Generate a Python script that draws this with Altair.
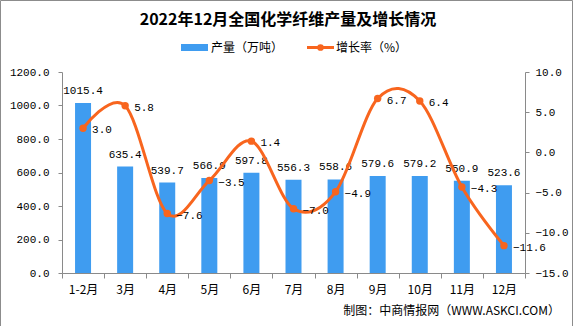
import altair as alt
import pandas as pd

months = ["1-2月", "3月", "4月", "5月", "6月", "7月", "8月", "9月", "10月", "11月", "12月"]
output = [1015.4, 635.4, 539.7, 566.9, 597.8, 556.3, 558.6, 579.6, 579.2, 550.9, 523.6]
growth = [3.0, 5.8, -7.6, -3.5, 1.4, -7.0, -4.9, 6.7, 6.4, -4.3, -11.6]
left_ticks = [0, 200, 400, 600, 800, 1000, 1200]
right_ticks = [-15, -10, -5, 0, 5, 10]

title_text = "2022年12月全国化学纤维产量及增长情况"
legend_bar = "产量（万吨）"
legend_line = "增长率（%）"
source_text = "制图：中商情报网（WWW.ASKCI.COM）"

df = pd.DataFrame({"month": months, "output": output, "growth": growth})

FONT = "Liberation Mono, Noto Sans CJK SC"
CJK = "Noto Sans CJK SC"
BLUE = "#3F9CF0"
ORANGE = "#F8651E"
GRAY = "#8A8A8A"

x = alt.X("month:N", sort=months, title=None,
          scale=alt.Scale(paddingInner=0, paddingOuter=0),
          axis=alt.Axis(labelAngle=0, tickBand="extent", domainColor=GRAY, tickColor=GRAY,
                        tickSize=5, labelPadding=6, labelFontSize=12, labelFont=CJK,
                        labelColor="black", grid=False))

ya = alt.Y("output:Q", title=None,
           scale=alt.Scale(domain=[0, 1200], nice=False, zero=True),
           axis=alt.Axis(values=left_ticks, format=".1f", labelOverlap=False, tickCount=7,
                         domainColor=GRAY, tickColor=GRAY, tickSize=4, labelPadding=9,
                         labelFontSize=11, labelFont=FONT, labelColor="black", grid=False))

yr = alt.Y("growth:Q", title=None,
           scale=alt.Scale(domain=[-15, 10], nice=False),
           axis=alt.Axis(orient="right", values=right_ticks, format=".1f", labelOverlap=False,
                         domainColor=GRAY, tickColor=GRAY, tickSize=4, labelPadding=6,
                         labelFontSize=11, labelFont=FONT, labelColor="black", grid=False))

base = alt.Chart(df)

bars = base.mark_bar(size=16, color=BLUE).encode(x=x, y=ya)
bar_text = base.mark_text(baseline="bottom", dy=-7, fontSize=11, font=FONT, color="black").encode(
    x=x, y=ya, text=alt.Text("output:Q", format=".1f"))

line = base.mark_line(interpolate="cardinal", color=ORANGE, strokeWidth=3).encode(x=x, y=yr)
pts = base.mark_point(filled=True, size=55, color=ORANGE, opacity=1).encode(x=x, y=yr)
line_text = base.mark_text(align="left", baseline="middle", dx=9, dy=2, fontSize=11,
                           font=FONT, color="black").encode(
    x=x, y=yr, text=alt.Text("growth:Q", format=".1f"))

left = alt.layer(bars, bar_text)
right = alt.layer(line, pts, line_text)

one = pd.DataFrame({"a": [0]})
border = alt.Chart(one).mark_rect(fill=None, stroke="#8C8C8C", strokeWidth=1).encode(
    x=alt.value(-61.5), x2=alt.value(510.5), y=alt.value(-71.5), y2=alt.value(260))
title = alt.Chart(one).mark_text(fontSize=16, font=CJK, fontWeight="bold", color="black",
                                 align="center", baseline="middle").encode(
    x=alt.value(226), y=alt.value(-52), text=alt.value(title_text))
leg_rect = alt.Chart(one).mark_rect(color=BLUE).encode(
    x=alt.value(119), x2=alt.value(146), y=alt.value(-28), y2=alt.value(-21))
leg_t1 = alt.Chart(one).mark_text(fontSize=12, font=CJK, color="black", align="left",
                                  baseline="middle").encode(
    x=alt.value(149), y=alt.value(-24.5), text=alt.value(legend_bar))
leg_line = alt.Chart(one).mark_rule(color=ORANGE, strokeWidth=3).encode(
    x=alt.value(245), x2=alt.value(272), y=alt.value(-24.5))
leg_dot = alt.Chart(one).mark_point(filled=True, size=45, color=ORANGE, opacity=1).encode(
    x=alt.value(258.5), y=alt.value(-24.5))
leg_t2 = alt.Chart(one).mark_text(fontSize=12, font=CJK, color="black", align="left",
                                  baseline="middle").encode(
    x=alt.value(274), y=alt.value(-24.5), text=alt.value(legend_line))
src = alt.Chart(one).mark_text(fontSize=12, font=CJK, color="black", align="right",
                               baseline="middle").encode(
    x=alt.value(498), y=alt.value(239), text=alt.value(source_text))

chart = alt.layer(left, right, border, title, leg_rect, leg_t1, leg_line, leg_dot, leg_t2, src).resolve_scale(
    y="independent"
).properties(
    width=463, height=201,
    autosize=alt.AutoSizeParams(type="none"),
    padding={"left": 62, "top": 72, "right": 51, "bottom": 53},
    background="white",
).configure_view(stroke=None)

chart.save("out.html", embed_options={"renderer": "svg", "actions": False})
